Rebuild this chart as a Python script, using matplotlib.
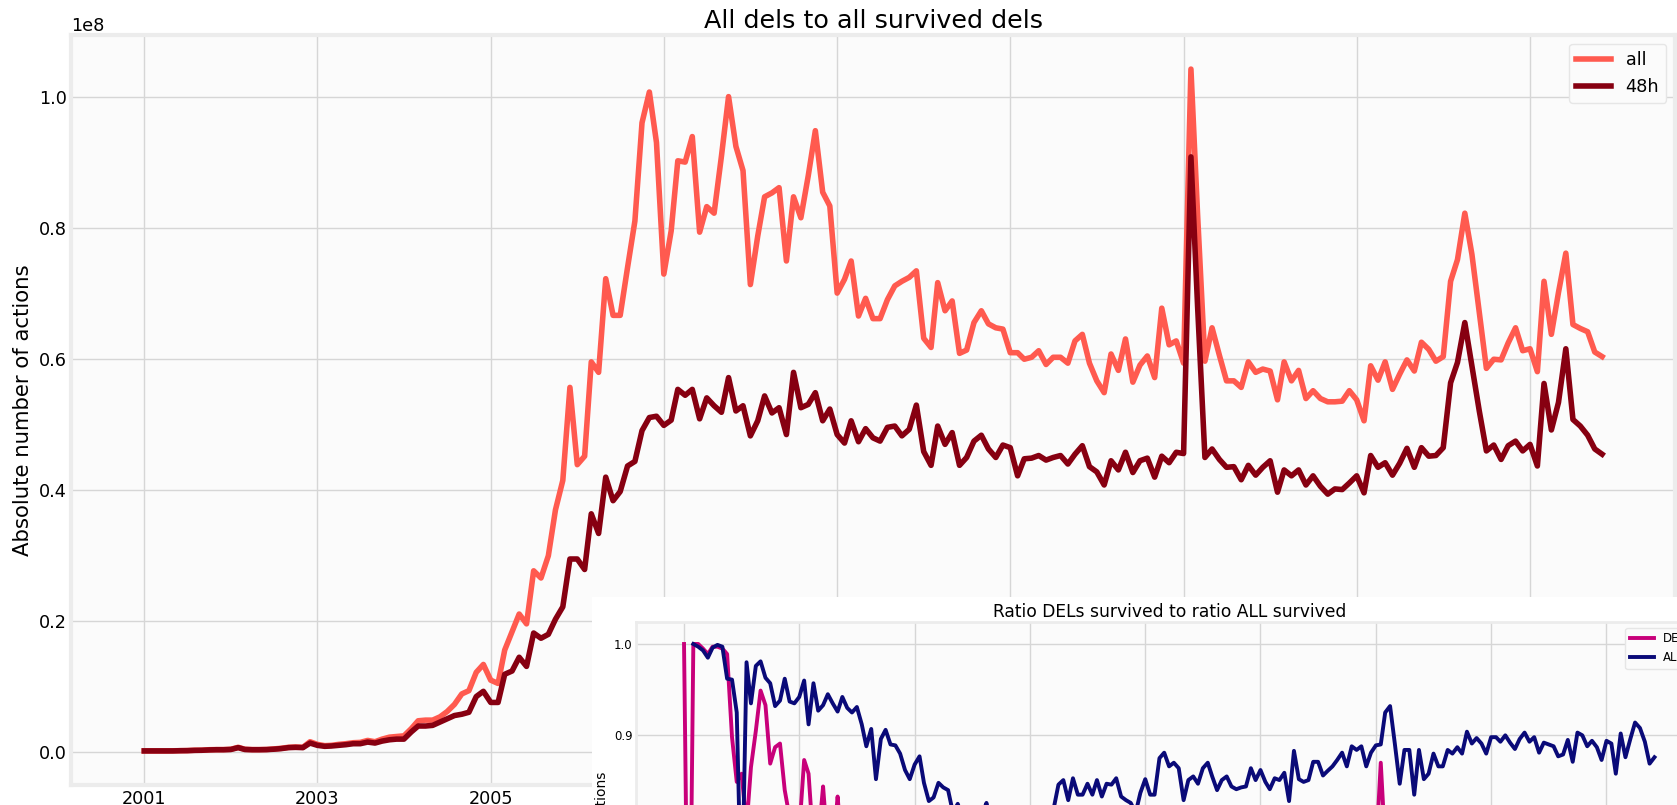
import numpy as np
import pandas as pd
import matplotlib
matplotlib.use("Agg")
import matplotlib.pyplot as plt
import matplotlib.dates as mdates
from matplotlib.patches import Rectangle
from matplotlib.ticker import MultipleLocator

# monthly deletions, in units of 1e8 (Jan 2001 .. Nov 2017)
all_vals = [
    0.001, 0.001, 0.001, 0.001, 0.0012, 0.0015, 0.0015, 0.002, 0.002, 0.0028, 0.003, 0.003,
    0.0035, 0.0065, 0.0035, 0.003, 0.003, 0.0032, 0.004, 0.005, 0.0065, 0.007, 0.0065, 0.015,
    0.011, 0.009, 0.0095, 0.011, 0.012, 0.0135, 0.014, 0.017, 0.015, 0.019, 0.022, 0.023,
    0.024, 0.035, 0.047, 0.048, 0.048, 0.053, 0.061, 0.072, 0.088, 0.093, 0.121, 0.133,
    0.109, 0.104, 0.155, 0.183, 0.21, 0.195, 0.276, 0.265, 0.299, 0.369, 0.414, 0.556,
    0.438, 0.451, 0.595, 0.579, 0.722, 0.666, 0.666, 0.739, 0.81, 0.96, 1.007, 0.93,
    0.729, 0.795, 0.902, 0.90, 0.939, 0.793, 0.832, 0.822, 0.909, 1.0, 0.924, 0.887,
    0.713, 0.787, 0.847, 0.853, 0.861, 0.749, 0.847, 0.815, 0.879, 0.948, 0.854, 0.833,
    0.70, 0.721, 0.749, 0.665, 0.692, 0.661, 0.661, 0.69, 0.711, 0.718, 0.724, 0.734,
    0.631, 0.617, 0.716, 0.673, 0.688, 0.608, 0.613, 0.655, 0.673, 0.653, 0.647, 0.645,
    0.609, 0.609, 0.599, 0.602, 0.612, 0.591, 0.602, 0.602, 0.593, 0.627, 0.637, 0.593,
    0.566, 0.548, 0.607, 0.582, 0.63, 0.564, 0.59, 0.604, 0.571, 0.677, 0.621, 0.627,
    0.593, 1.042, 0.82, 0.596, 0.647, 0.605, 0.566, 0.566, 0.556, 0.595, 0.579, 0.584,
    0.581, 0.537, 0.595, 0.566, 0.582, 0.539, 0.551, 0.539, 0.534, 0.534, 0.535, 0.551,
    0.537, 0.505, 0.589, 0.567, 0.595, 0.553, 0.576, 0.598, 0.581, 0.625, 0.614, 0.596,
    0.603, 0.718, 0.751, 0.822, 0.759, 0.67, 0.585, 0.599, 0.598, 0.624, 0.647, 0.612,
    0.615, 0.58, 0.718, 0.637, 0.701, 0.761, 0.652, 0.646, 0.641, 0.61, 0.603,
]
h48_vals = [
    0.001, 0.001, 0.001, 0.001, 0.001, 0.0013, 0.0014, 0.0018, 0.002, 0.0025, 0.0028, 0.0028,
    0.0032, 0.006, 0.0032, 0.0028, 0.0028, 0.003, 0.0036, 0.0045, 0.006, 0.0064, 0.006, 0.013,
    0.0095, 0.008, 0.0085, 0.0095, 0.0105, 0.012, 0.012, 0.0145, 0.013, 0.016, 0.018, 0.019,
    0.019, 0.03, 0.039, 0.039, 0.04, 0.045, 0.05, 0.055, 0.057, 0.06, 0.084, 0.092,
    0.075, 0.075, 0.118, 0.123, 0.144, 0.13, 0.181, 0.173, 0.179, 0.202, 0.221, 0.294,
    0.294, 0.278, 0.363, 0.333, 0.419, 0.383, 0.397, 0.436, 0.443, 0.49, 0.51, 0.512,
    0.498, 0.506, 0.553, 0.544, 0.553, 0.508, 0.54, 0.528, 0.518, 0.571, 0.52, 0.528,
    0.482, 0.505, 0.543, 0.517, 0.525, 0.484, 0.579, 0.525, 0.53, 0.548, 0.505, 0.523,
    0.484, 0.471, 0.505, 0.473, 0.493, 0.479, 0.474, 0.495, 0.497, 0.482, 0.492, 0.529,
    0.458, 0.437, 0.497, 0.469, 0.487, 0.437, 0.449, 0.474, 0.483, 0.462, 0.449, 0.468,
    0.464, 0.421, 0.447, 0.448, 0.452, 0.445, 0.449, 0.452, 0.439, 0.454, 0.467, 0.435,
    0.427, 0.407, 0.444, 0.43, 0.457, 0.426, 0.444, 0.448, 0.419, 0.451, 0.441, 0.457,
    0.455, 0.908, 0.68, 0.449, 0.462, 0.446, 0.434, 0.435, 0.415, 0.437, 0.422, 0.434,
    0.444, 0.396, 0.43, 0.421, 0.43, 0.407, 0.421, 0.405, 0.393, 0.401, 0.4, 0.41,
    0.421, 0.395, 0.452, 0.434, 0.441, 0.422, 0.44, 0.463, 0.434, 0.464, 0.451, 0.452,
    0.464, 0.563, 0.594, 0.655, 0.589, 0.52, 0.459, 0.468, 0.446, 0.467, 0.474, 0.459,
    0.469, 0.436, 0.562, 0.491, 0.533, 0.615, 0.507, 0.497, 0.483, 0.462, 0.454,
]

# survival ratios for the small chart
dels_ratio = [
    1.0, 0.55, 1.0, 1.0, 0.995, 0.989, 0.997, 0.997, 0.995, 0.989, 0.898, 0.849,
    0.858, 0.80, 0.865, 0.905, 0.949, 0.933, 0.869, 0.887, 0.891, 0.84, 0.81, 0.79,
    0.795, 0.873, 0.858, 0.78, 0.785, 0.844, 0.775, 0.77, 0.833, 0.77, 0.78, 0.80,
    0.79, 0.80, 0.81, 0.80, 0.81, 0.80, 0.79, 0.78, 0.76, 0.65, 0.65, 0.69,
    0.69, 0.72, 0.76, 0.67, 0.69, 0.67, 0.66, 0.65, 0.60, 0.55, 0.53, 0.53,
    0.67, 0.62, 0.61, 0.58, 0.58, 0.58, 0.60, 0.59, 0.55, 0.51, 0.512, 0.55,
    0.68, 0.64, 0.61, 0.60, 0.59, 0.64, 0.65, 0.64, 0.57, 0.571, 0.56, 0.60,
    0.68, 0.64, 0.64, 0.61, 0.61, 0.65, 0.68, 0.64, 0.60, 0.58, 0.59, 0.63,
    0.69, 0.65, 0.67, 0.71, 0.71, 0.72, 0.72, 0.72, 0.70, 0.67, 0.68, 0.72,
    0.73, 0.71, 0.69, 0.70, 0.71, 0.72, 0.73, 0.72, 0.72, 0.71, 0.69, 0.73,
    0.76, 0.69, 0.75, 0.74, 0.74, 0.75, 0.75, 0.75, 0.74, 0.72, 0.73, 0.73,
    0.75, 0.74, 0.73, 0.74, 0.73, 0.76, 0.75, 0.74, 0.73, 0.67, 0.71, 0.73,
    0.77, 0.87, 0.78, 0.75, 0.71, 0.74, 0.77, 0.77, 0.75, 0.73, 0.73, 0.74,
    0.76, 0.74, 0.72, 0.74, 0.74, 0.76, 0.76, 0.75, 0.74, 0.75, 0.75, 0.74,
    0.78, 0.78, 0.77, 0.77, 0.74, 0.76, 0.76, 0.77, 0.75, 0.74, 0.73, 0.76,
    0.77, 0.78, 0.79, 0.80, 0.78, 0.78, 0.78, 0.78, 0.75, 0.75, 0.73, 0.75,
    0.76, 0.75, 0.78, 0.77, 0.76, 0.81, 0.78, 0.77, 0.75, 0.76, 0.75,
]
all_ratio = [
    np.nan, np.nan, 1.0, 0.997, 0.993, 0.985, 0.996, 0.999, 0.997, 0.962, 0.961, 0.925,
    0.70, 0.98, 0.935, 0.976, 0.981, 0.963, 0.957, 0.932, 0.938, 0.962, 0.937, 0.935,
    0.942, 0.96, 0.912, 0.957, 0.927, 0.933, 0.945, 0.935, 0.926, 0.942, 0.93, 0.925,
    0.931, 0.912, 0.888, 0.907, 0.852, 0.896, 0.906, 0.89, 0.889, 0.88, 0.862, 0.852,
    0.868, 0.877, 0.848, 0.828, 0.832, 0.848, 0.843, 0.84, 0.815, 0.825, 0.81, 0.805,
    0.81, 0.80, 0.812, 0.826, 0.805, 0.80, 0.795, 0.80, 0.79, 0.795, 0.80, 0.805,
    0.80, 0.81, 0.805, 0.80, 0.81, 0.82, 0.846, 0.851, 0.829, 0.853, 0.835, 0.835,
    0.847, 0.835, 0.851, 0.833, 0.847, 0.846, 0.853, 0.833, 0.829, 0.826, 0.815, 0.837,
    0.852, 0.835, 0.835, 0.875, 0.881, 0.866, 0.870, 0.864, 0.829, 0.851, 0.855, 0.847,
    0.864, 0.870, 0.855, 0.840, 0.851, 0.855, 0.844, 0.841, 0.843, 0.844, 0.864, 0.851,
    0.862, 0.849, 0.841, 0.853, 0.851, 0.859, 0.828, 0.883, 0.852, 0.849, 0.851, 0.871,
    0.871, 0.856, 0.861, 0.866, 0.873, 0.881, 0.866, 0.888, 0.884, 0.888, 0.866, 0.881,
    0.889, 0.890, 0.925, 0.932, 0.891, 0.847, 0.884, 0.884, 0.835, 0.884, 0.852, 0.858,
    0.880, 0.866, 0.866, 0.884, 0.880, 0.887, 0.880, 0.904, 0.891, 0.897, 0.891, 0.880,
    0.898, 0.898, 0.893, 0.900, 0.892, 0.885, 0.896, 0.903, 0.893, 0.898, 0.881, 0.892,
    0.890, 0.888, 0.877, 0.879, 0.895, 0.871, 0.903, 0.900, 0.888, 0.894, 0.887, 0.873,
    0.894, 0.891, 0.858, 0.902, 0.876, 0.896, 0.914, 0.908, 0.893, 0.869, 0.876,
]
tick_years = [2001, 2003, 2005, 2007, 2009, 2011, 2013, 2015, 2017]

months = pd.date_range("2001-01-01", periods=len(all_vals), freq="MS")
year_ticks = [pd.Timestamp(f"{y}-01-01") for y in tick_years]

W, H = 1677, 805


def px_box(left, top, right, bottom):
    return [left / W, (H - bottom) / H, (right - left) / W, (bottom - top) / H]


def style_axes(ax, spine_w):
    ax.set_facecolor("#fbfbfb")
    for s in ax.spines.values():
        s.set_color("#ececec")
        s.set_linewidth(spine_w)
    ax.grid(True, color="#d6d6d6", linewidth=1)
    ax.set_axisbelow(True)
    ax.tick_params(length=0)
    ax.set_xticks(year_ticks)
    ax.xaxis.set_major_formatter(mdates.DateFormatter("%Y"))


fig = plt.figure(figsize=(W / 100, H / 100), dpi=100)
fig.patch.set_facecolor("white")

# main chart
ax = fig.add_axes(px_box(71.4, 35, 1675, 785))
style_axes(ax, 3)
ax.plot(months, np.array(all_vals) * 1e8, color="#ff5a4f", lw=4, label="all")
ax.plot(months, np.array(h48_vals) * 1e8, color="#870011", lw=4, label="48h")
ax.set_title("All dels to all survived dels", fontsize=18.3, pad=5)
ax.set_ylabel("Absolute number of actions", fontsize=15.3)
ax.tick_params(labelsize=12.7)
ax.yaxis.get_offset_text().set_fontsize(12.7)
ax.legend(loc="upper right", fontsize=12.7, facecolor="#fbfbfb", edgecolor="#e6e6e6",
          framealpha=1)
ax.set_zorder(0)

# pasted second chart, white background behind it
fig.add_artist(Rectangle((591.5 / W, -1), 1, (H - 596.7) / H + 1,
                         transform=fig.transFigure, facecolor="white",
                         edgecolor="none", zorder=1))

ax2 = fig.add_axes(px_box(635.5, 621.7, 1703, 1112))
style_axes(ax2, 2)
ax2.plot(months, dels_ratio, color="#c8007a", lw=2.8, label="DELs")
ax2.plot(months, all_ratio, color="#0a0a78", lw=2.8, label="ALL")
ax2.set_ylim(0.4876, 1.0244)
ax2.yaxis.set_major_locator(MultipleLocator(0.1))
ax2.set_title("Ratio DELs survived to ratio ALL survived", fontsize=12.3, pad=3.5)
ax2.set_ylabel("Absolute number of actions", fontsize=10)
ax2.tick_params(labelsize=8.5, pad=2)
ax2.legend(loc="upper right", fontsize=8.5, facecolor="#fbfbfb", edgecolor="#e6e6e6",
           framealpha=1)
ax2.set_zorder(2)

fig.savefig("out.png", dpi=100)
